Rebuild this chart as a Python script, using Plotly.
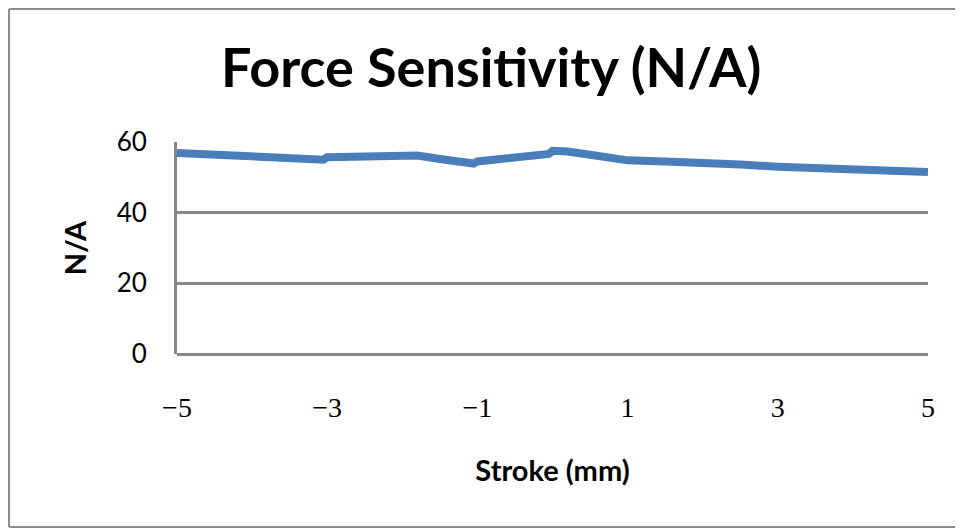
import plotly.graph_objects as go

stroke_mm = [-5.0, -4.5, -4.0, -3.5, -3.05, -3.0, -2.5, -2.0, -1.8, -1.5, -1.05,
             -1.0, -0.5, -0.05, 0.0, 0.2, 0.5, 0.9, 1.0, 1.5, 2.0, 2.5, 3.0, 3.5, 4.0, 4.5, 5.0]
sensitivity = [56.9, 56.4, 55.9, 55.4, 55.0, 55.7, 56.1, 56.4, 56.2, 55.2, 53.9,
               54.5, 55.8, 56.6, 57.5, 57.3, 56.4, 55.1, 54.8, 54.5, 54.2, 53.6, 53.0, 52.6, 52.3, 51.9, 51.5]

x_ticks = [-5, -3, -1, 1, 3, 5]
x_tick_text = ["\u22125", "\u22123", "\u22121", "1", "3", "5"]
y_ticks = [0, 20, 40, 60]

grid = "#878787"

W, H = 955, 522
L, R, T, B = 169, 35, 134, 176
PW, PH = W - L - R, H - T - B

fig = go.Figure()
fig.add_trace(go.Scatter(
    x=stroke_mm, y=sensitivity, mode="lines",
    line=dict(color="#4A7EBB", width=8),
    showlegend=False, hoverinfo="skip",
))

fig.update_layout(
    width=W, height=H,
    margin=dict(l=L, r=R, t=T, b=B),
    paper_bgcolor="white", plot_bgcolor="white",
    title=dict(text="<b>Force Sensitivity (N/A)</b>", x=0.506, xanchor="center",
               y=0.885, yanchor="middle",
               font=dict(family="Lato", size=54, color="black")),
    xaxis=dict(range=[-5, 5], tickvals=x_ticks, ticktext=x_tick_text,
               showgrid=False, zeroline=False, showline=False,
               ticks="", ticklabelstandoff=34,
               tickfont=dict(family="Liberation Serif", size=28, color="black"),
               title=dict(text="<b>Stroke (mm)</b>", standoff=38,
                          font=dict(family="Lato", size=29, color="black"))),
    yaxis=dict(range=[0, 60], tickvals=y_ticks,
               showgrid=True, gridcolor=grid, gridwidth=3,
               zeroline=True, zerolinecolor=grid, zerolinewidth=3,
               showline=True, linecolor=grid, linewidth=3,
               ticks="", ticklabelstandoff=22,
               tickfont=dict(family="Lato", size=26, color="black"),
               title=dict(text="<b>N/A</b>", standoff=22,
                          font=dict(family="Lato", size=29, color="black"))),
)

# outer chart border (top, left, bottom only)
def px_x(v):
    return (v - L) / PW

def px_y(v):
    return (H - B - v) / PH

border = dict(color="#8c8c8c", width=2)
for (ax0, ay0, ax1, ay1) in [(1, 1, W, 1), (1, 1, 1, H - 3), (1, H - 3, W, H - 3)]:
    fig.add_shape(type="line", xref="paper", yref="paper",
                  x0=px_x(ax0), y0=px_y(ay0), x1=px_x(ax1), y1=px_y(ay1),
                  line=border, layer="below")

fig.write_html("out.html")
